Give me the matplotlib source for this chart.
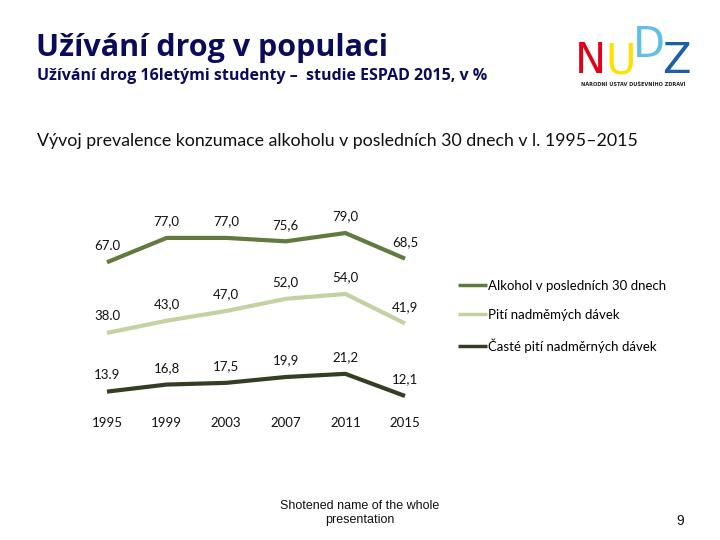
import matplotlib
matplotlib.use("Agg")
import matplotlib.pyplot as plt

years = [1995, 1999, 2003, 2007, 2011, 2015]
alkohol = [67.0, 77.0, 77.0, 75.6, 79.0, 68.5]
piti = [38.0, 43.0, 47.0, 52.0, 54.0, 41.9]
caste = [13.9, 16.8, 17.5, 19.9, 21.2, 12.1]
alkohol_lbl = ["67.0", "77,0", "77,0", "75,6", "79,0", "68,5"]
piti_lbl = ["38.0", "43,0", "47,0", "52,0", "54,0", "41,9"]
caste_lbl = ["13.9", "16,8", "17,5", "19,9", "21,2", "12,1"]
series_names = ["Alkohol v posledních 30 dnech", "Pití nadměmých dávek",
                "Časté pití nadměrných dávek"]

COLORS = ["#62793f", "#c3d1a3", "#343e24"]
FONT = ["Lato", "DejaVu Sans"]

W, H = 720, 540
fig = plt.figure(figsize=(7.2, 5.4), dpi=100)

def px(x, y):
    return x / W, 1 - y / H

# header
fig.text(*px(36, 48), "Užívání drog v populaci", fontsize=22, fontweight="bold",
         color="#0b0b5c", family=["Open Sans", "DejaVu Sans"], va="center")
fig.text(*px(37, 76), "Užívání drog 16letými studenty –  studie ESPAD 2015, v %",
         fontsize=11.5, fontweight="bold", color="#0b0b5c",
         family=["Open Sans", "DejaVu Sans"], va="center")
fig.text(*px(37, 141),
         "Vývoj prevalence konzumace alkoholu v posledních 30 dnech v l. 1995–2015",
         fontsize=12.8, color="#111111", family=FONT, va="center")

# logo
for ch, x, y, c in [("N", 575, 61, "#e2001a"), ("U", 605, 61, "#ffe000"),
                    ("D", 633, 45, "#5fbfe8"), ("Z", 662, 61, "#1d5ea8")]:
    fig.text(*px(x, y), ch, fontsize=30, color=c, family=["DejaVu Sans"],
             va="center", ha="left")
fig.text(*px(633, 84), "NÁRODNÍ ÚSTAV DUŠEVNÍHO ZDRAVÍ", fontsize=3.6,
         color="#222222", ha="center", va="center", fontweight="bold")

# chart axes: x 1995 at 107px, 2015 at 405px; y value 0 at 425.5px, 2.436 px/unit
x0, x1 = 90, 425
y_top, y_bot = 200, 413.3
ax = fig.add_axes([x0 / W, 1 - y_bot / H, (x1 - x0) / W, (y_bot - y_top) / H])
step = (405 - 107) / 20
ax.set_xlim(1995 - (107 - x0) / step, 2015 + (x1 - 405) / step)
ax.set_ylim(5, 5 + (y_bot - y_top) / 2.436)

for vals, lbls, col, name in zip([alkohol, piti, caste],
                                 [alkohol_lbl, piti_lbl, caste_lbl],
                                 COLORS, series_names):
    ax.plot(years, vals, color=col, linewidth=3, solid_capstyle="butt", label=name)
    for x, v, t in zip(years, vals, lbls):
        ax.annotate(t, (x, v), xytext=(0, 7.5), textcoords="offset points",
                    ha="center", va="bottom", fontsize=9.5, color="#111111",
                    family=FONT)

ax.set_xticks(years)
ax.set_xticklabels([str(y) for y in years], fontsize=9.5, family=FONT, color="#111111")
ax.tick_params(axis="x", length=0, pad=3)
ax.set_yticks([])
for s in ax.spines.values():
    s.set_visible(False)

leg = fig.legend(loc="upper left", bbox_to_anchor=px(446, 268), frameon=False,
                 prop={"family": FONT, "size": 9.5}, handlelength=2.2,
                 handletextpad=0.1, labelspacing=1.3)
for line in leg.get_lines():
    line.set_linewidth(2.5)

# footer
fig.text(*px(360, 513), "Shotened name of the whole\npresentation", fontsize=9,
         ha="center", va="center", color="#111111",
         family=["Liberation Sans"], linespacing=1.3)
fig.text(*px(680, 521), "9", fontsize=10, ha="center", va="center", color="#111111",
         family=["Liberation Sans"])

fig.savefig("out.png", dpi=100)
